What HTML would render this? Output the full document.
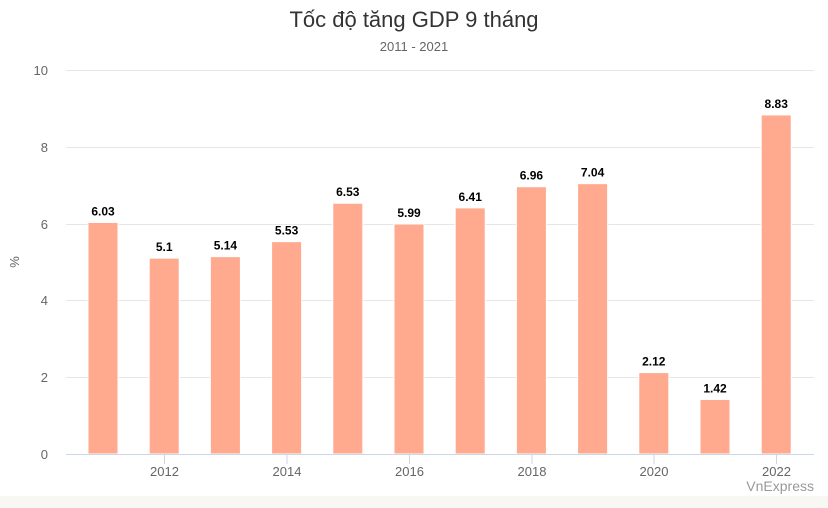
<!DOCTYPE html>
<html><head><meta charset="utf-8"><style>
html,body{margin:0;padding:0;background:#fff;}
svg{display:block;font-family:"Liberation Sans",sans-serif;}
</style></head><body>
<svg width="828" height="508" viewBox="0 0 828 508">
<rect x="0" y="0" width="828" height="508" fill="#fff"/>
<rect x="0" y="496" width="828" height="12" fill="#f9f7f3"/>
<text x="414" y="27" text-anchor="middle" font-size="22" fill="#333">Tốc độ tăng GDP 9 tháng</text>
<text x="414" y="51" text-anchor="middle" font-size="13" fill="#666">2011 - 2021</text>
<g stroke="#e6e6e6" stroke-width="1">
<line x1="66" x2="814" y1="70.5" y2="70.5"/>
<line x1="66" x2="814" y1="147.5" y2="147.5"/>
<line x1="66" x2="814" y1="224.5" y2="224.5"/>
<line x1="66" x2="814" y1="300.5" y2="300.5"/>
<line x1="66" x2="814" y1="377.5" y2="377.5"/>
</g>
<g font-size="13" fill="#666" text-anchor="end">
<text x="48" y="75">10</text>
<text x="48" y="152">8</text>
<text x="48" y="229">6</text>
<text x="48" y="305">4</text>
<text x="48" y="382">2</text>
<text x="48" y="459">0</text>
</g>
<text transform="translate(19,262) rotate(-90)" text-anchor="middle" font-size="13" fill="#666">%</text>
<g fill="#ffa98f" stroke="#fff" stroke-width="1" id="bars"></g>
<line x1="66" x2="814" y1="454.5" y2="454.5" stroke="#ccd6eb" stroke-width="1"/>
<g stroke="#ccd6eb"><line x1="164.5" x2="164.5" y1="454" y2="464"/><line x1="287" x2="287" y1="454" y2="464"/><line x1="409.5" x2="409.5" y1="454" y2="464"/><line x1="532" x2="532" y1="454" y2="464"/><line x1="654" x2="654" y1="454" y2="464"/><line x1="776.5" x2="776.5" y1="454" y2="464"/></g>
<g font-size="13" fill="#666" text-anchor="middle">
<text x="164.5" y="476">2012</text><text x="287" y="476">2014</text><text x="409.5" y="476">2016</text><text x="532" y="476">2018</text><text x="654" y="476">2020</text><text x="776.5" y="476">2022</text>
</g>
<text x="814" y="491" text-anchor="end" font-size="14" fill="#999">VnExpress</text>
<g id="labels" font-size="12" font-weight="bold" fill="#000" text-anchor="middle"></g>
</svg>
<script>
var v=[6.03,5.1,5.14,5.53,6.53,5.99,6.41,6.96,7.04,2.12,1.42,8.83];
var b=document.getElementById('bars'),l=document.getElementById('labels'),ns="http://www.w3.org/2000/svg";
v.forEach(function(d,i){var cx=103+i*61.2,y=454-d*38.4;
var r=document.createElementNS(ns,'rect');r.setAttribute('x',cx-15);r.setAttribute('y',y);r.setAttribute('width',30);r.setAttribute('height',454-y);b.appendChild(r);
var t=document.createElementNS(ns,'text');t.setAttribute('x',cx);t.setAttribute('y',y-7);t.textContent=String(d);l.appendChild(t);});
</script>
</body></html>
